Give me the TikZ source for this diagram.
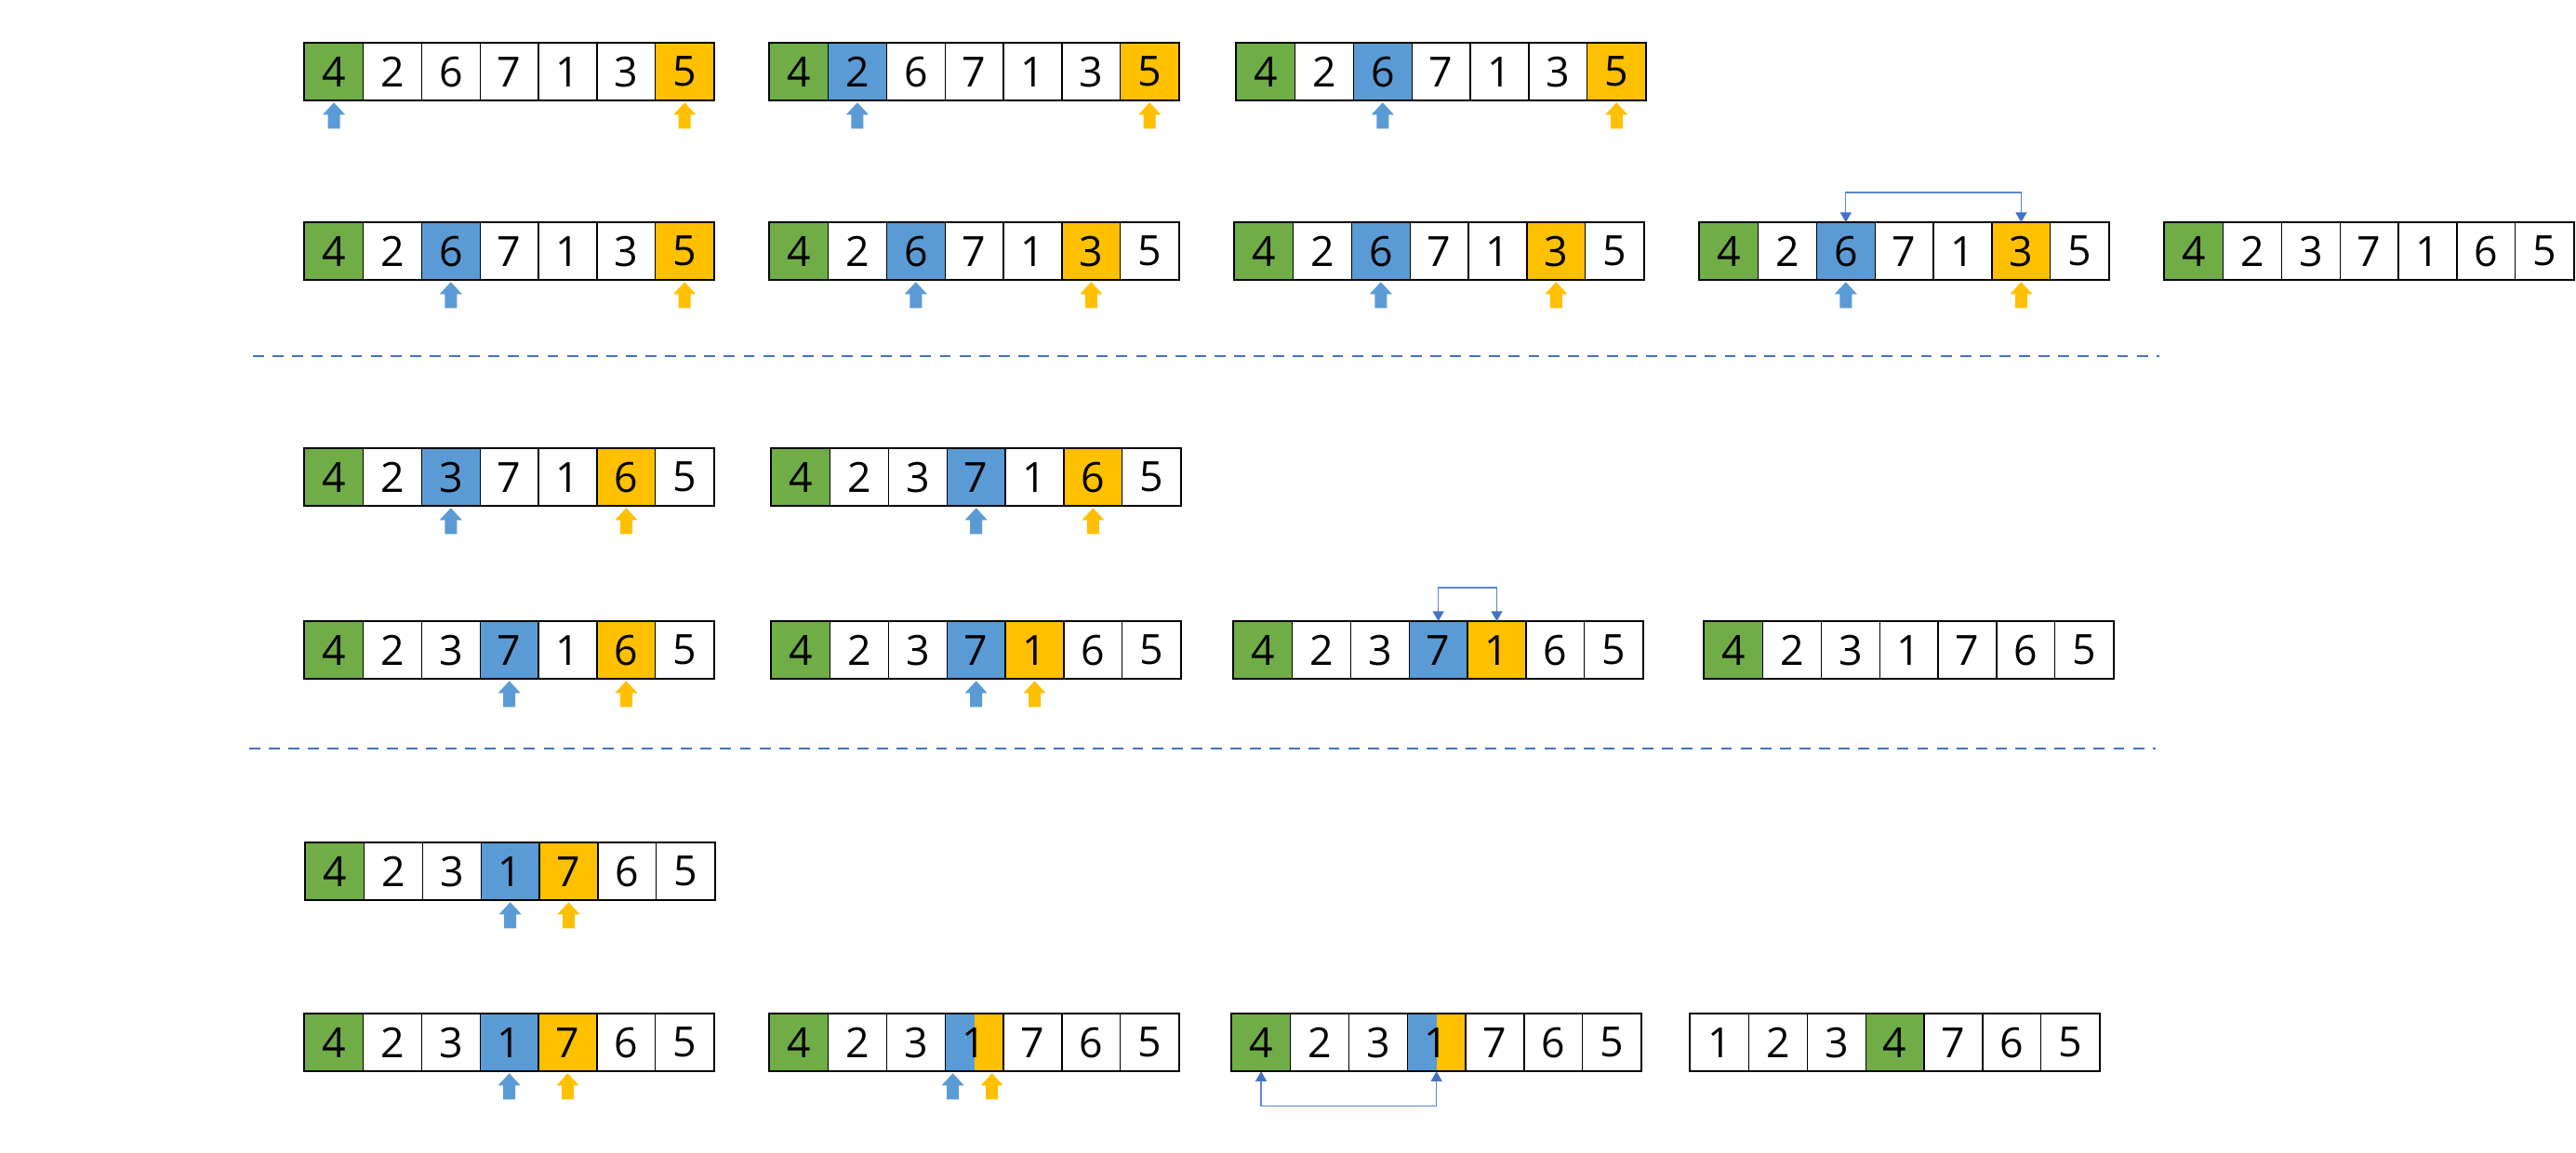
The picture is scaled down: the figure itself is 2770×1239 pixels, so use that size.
\documentclass[tikz,border=0pt]{standalone}
\usepackage{fontspec}
\setmainfont{Open Sans}
\usetikzlibrary{arrows.meta}
\definecolor{cgreen}{HTML}{70AD47}
\definecolor{cblue}{HTML}{5B9BD5}
\definecolor{corange}{HTML}{FFC000}
\definecolor{cdash}{HTML}{4472C4}
\definecolor{cswap}{HTML}{5B87D3}
\tikzset{
  cellbox/.style={draw=black, line width=0.35pt, minimum width=0.6286cm, minimum height=0.61cm,
    inner sep=0pt, anchor=north west, font=\fontsize{12.7}{15}\selectfont},
  fillw/.style={fill=white},
  fillg/.style={fill=cgreen},
  fillb/.style={fill=cblue},
  fillo/.style={fill=corange},
  fillh/.style={path picture={
      \fill[cblue] (path picture bounding box.north west) rectangle (path picture bounding box.south);
      \fill[corange] (path picture bounding box.north) rectangle (path picture bounding box.south east);}},
  outerline/.style={draw=black, line width=0.6pt},
  sepline/.style={draw=cdash, line width=0.75pt, dash pattern=on 3.4pt off 2.6pt},
  swapline/.style={draw=cswap, line width=0.35pt, {Triangle[width=3.4pt,length=3pt,color=cdash]}-{Triangle[width=3.4pt,length=3pt,color=cdash]}},
}
\newcommand\cellrow[4]{%
  \foreach \v/\s [count=\i] in {#4}{%
    \node[cellbox,\s] (#1-\i) at ({#2+(\i-1)*62.86},#3) {\v};
  }%
  \draw[outerline] (#1-1.north west) rectangle (#1-7.south east);
}
\newcommand\ptrarrow[2]{%
  \fill[#1] (#2) ++(0,2) -- ++(12,13) -- ++(-5.5,0) -- ++(0,15) -- ++(-13,0) -- ++(0,-15) -- ++(-5.5,0) -- cycle;}
\begin{document}
\begin{tikzpicture}[x=0.01cm,y=-0.01cm]
\useasboundingbox[fill=white] (0,0) rectangle (2770,1239);
% Row 1
\cellrow{ra}{327}{46}{4/fillg,2/fillw,6/fillw,7/fillw,1/fillw,3/fillw,5/fillo}
\ptrarrow{cblue}{ra-1.south}\ptrarrow{corange}{ra-7.south}
\cellrow{rb}{827}{46}{4/fillg,2/fillb,6/fillw,7/fillw,1/fillw,3/fillw,5/fillo}
\ptrarrow{cblue}{rb-2.south}\ptrarrow{corange}{rb-7.south}
\cellrow{rc}{1329}{46}{4/fillg,2/fillw,6/fillb,7/fillw,1/fillw,3/fillw,5/fillo}
\ptrarrow{cblue}{rc-3.south}\ptrarrow{corange}{rc-7.south}
% Row 2
\cellrow{sa}{327}{239}{4/fillg,2/fillw,6/fillb,7/fillw,1/fillw,3/fillw,5/fillo}
\ptrarrow{cblue}{sa-3.south}\ptrarrow{corange}{sa-7.south}
\cellrow{sb}{827}{239}{4/fillg,2/fillw,6/fillb,7/fillw,1/fillw,3/fillo,5/fillw}
\ptrarrow{cblue}{sb-3.south}\ptrarrow{corange}{sb-6.south}
\cellrow{sc}{1327}{239}{4/fillg,2/fillw,6/fillb,7/fillw,1/fillw,3/fillo,5/fillw}
\ptrarrow{cblue}{sc-3.south}\ptrarrow{corange}{sc-6.south}
\cellrow{sd}{1827}{239}{4/fillg,2/fillw,6/fillb,7/fillw,1/fillw,3/fillo,5/fillw}
\ptrarrow{cblue}{sd-3.south}\ptrarrow{corange}{sd-6.south}
\draw[swapline] (sd-3.north) -- ++(0,-32) -| (sd-6.north);
\cellrow{se}{2327}{239}{4/fillg,2/fillw,3/fillw,7/fillw,1/fillw,6/fillw,5/fillw}
% separator 1
\coordinate (d1l) at (272,383); \coordinate (d1r) at (2322,383);
\draw[sepline] (d1l) -- (d1r);
% Row 3
\cellrow{ta}{327}{482}{4/fillg,2/fillw,3/fillb,7/fillw,1/fillw,6/fillo,5/fillw}
\ptrarrow{cblue}{ta-3.south}\ptrarrow{corange}{ta-6.south}
\cellrow{tb}{829}{482}{4/fillg,2/fillw,3/fillw,7/fillb,1/fillw,6/fillo,5/fillw}
\ptrarrow{cblue}{tb-4.south}\ptrarrow{corange}{tb-6.south}
% Row 4
\cellrow{ua}{327}{668}{4/fillg,2/fillw,3/fillw,7/fillb,1/fillw,6/fillo,5/fillw}
\ptrarrow{cblue}{ua-4.south}\ptrarrow{corange}{ua-6.south}
\cellrow{ub}{829}{668}{4/fillg,2/fillw,3/fillw,7/fillb,1/fillo,6/fillw,5/fillw}
\ptrarrow{cblue}{ub-4.south}\ptrarrow{corange}{ub-5.south}
\cellrow{uc}{1326}{668}{4/fillg,2/fillw,3/fillw,7/fillb,1/fillo,6/fillw,5/fillw}
\draw[swapline] (uc-4.north) -- ++(0,-36) -| (uc-5.north);
\cellrow{ud}{1832}{668}{4/fillg,2/fillw,3/fillw,1/fillw,7/fillw,6/fillw,5/fillw}
% separator 2
\coordinate (d2l) at (268,805); \coordinate (d2r) at (2318,805);
\draw[sepline] (d2l) -- (d2r);
% Row 5
\cellrow{va}{328}{906}{4/fillg,2/fillw,3/fillw,1/fillb,7/fillo,6/fillw,5/fillw}
\ptrarrow{cblue}{va-4.south}\ptrarrow{corange}{va-5.south}
% Row 6
\cellrow{wa}{327}{1090}{4/fillg,2/fillw,3/fillw,1/fillb,7/fillo,6/fillw,5/fillw}
\ptrarrow{cblue}{wa-4.south}\ptrarrow{corange}{wa-5.south}
\cellrow{wb}{827}{1090}{4/fillg,2/fillw,3/fillw,1/fillh,7/fillw,6/fillw,5/fillw}
\ptrarrow{cblue}{[xshift=-0.23cm]wb-4.south}\ptrarrow{corange}{[xshift=0.19cm]wb-4.south}
\cellrow{wc}{1324}{1090}{4/fillg,2/fillw,3/fillw,1/fillh,7/fillw,6/fillw,5/fillw}
\draw[swapline] (wc-1.south) -- ++(0,37) -| (wc-4.south);
\cellrow{wd}{1817}{1090}{1/fillw,2/fillw,3/fillw,4/fillg,7/fillw,6/fillw,5/fillw}
\end{tikzpicture}
\end{document}
